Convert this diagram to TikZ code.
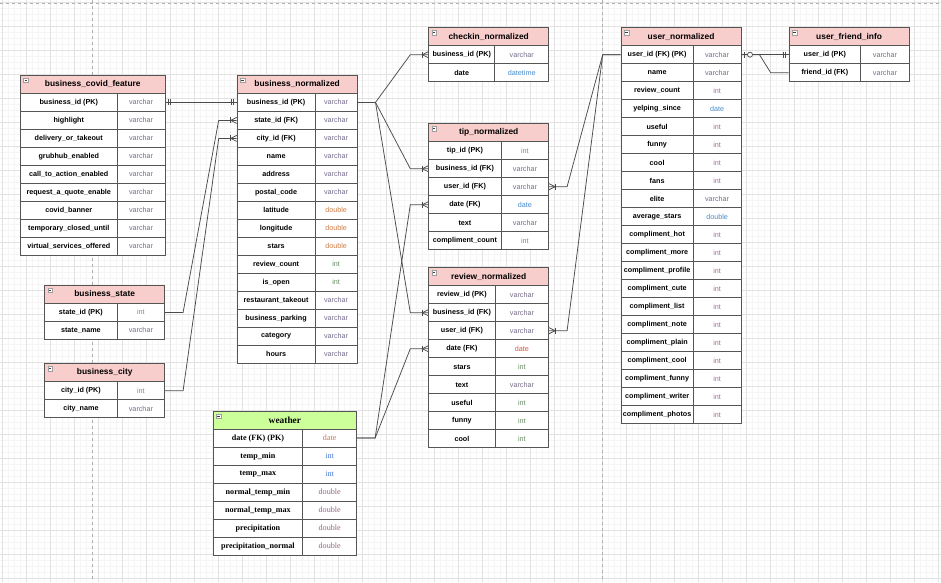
\documentclass[tikz,border=0pt]{standalone}
\usepackage{fontspec}
\setmainfont{Liberation Sans}
\newfontfamily\wserif{Liberation Serif}
\usetikzlibrary{calc}
\definecolor{bordc}{RGB}{85,85,85}
\definecolor{connc}{RGB}{75,75,75}
\definecolor{hdrpink}{RGB}{248,206,204}
\definecolor{hdrgreen}{RGB}{204,255,153}
\definecolor{cvar}{RGB}{118,108,140}
\definecolor{cint}{RGB}{165,110,150}
\definecolor{cintg}{RGB}{100,140,100}
\definecolor{cdbl}{RGB}{205,125,70}
\definecolor{cdate}{RGB}{70,140,205}
\definecolor{cdater}{RGB}{210,90,60}
\definecolor{cwdate}{RGB}{200,120,80}
\definecolor{cwint}{RGB}{70,120,210}
\definecolor{cwdbl}{RGB}{150,100,130}
\definecolor{gridmin}{RGB}{245,245,245}
\definecolor{gridmaj}{RGB}{226,226,226}
\definecolor{pagebrk}{RGB}{175,175,175}
\tikzset{
  tbl/.style={draw=bordc, line width=0.8pt, inner sep=0pt, minimum height=18pt, anchor=north west, fill=white},
  hdr/.style={tbl, fill=hdrpink, font=\fontsize{8.4}{10}\selectfont\bfseries},
  keycell/.style={tbl, font=\fontsize{7.2}{9}\selectfont\bfseries, text=black},
  typecell/.style={tbl, font=\fontsize{7.2}{9}\selectfont},
  conn/.style={draw=connc, line width=0.75pt},
  gridminor/.style={draw=gridmin, line width=0.4pt},
  gridmajor/.style={draw=gridmaj, line width=0.6pt},
  pagebreak/.style={draw=pagebrk, line width=0.7pt, dash pattern=on 3pt off 3pt},
}
% #1 name, #2 x, #3 y, #4 key width, #5 type width, #6 title, #7 rows
\newcommand\ertable[7]{%
  \node[hdr, minimum width={#4+#5}] (#1) at (#2,#3) {#6};
  \draw[draw=gray!75, fill=white, line width=0.4pt] ([xshift=3.5pt,yshift=-3pt]#1.north west) rectangle ([xshift=8pt,yshift=-7.5pt]#1.north west);
  \draw[line width=0.6pt, black!75] ([xshift=4.5pt,yshift=-5.25pt]#1.north west) -- ([xshift=7pt,yshift=-5.25pt]#1.north west);
  \foreach \kname/\tname/\cname [count=\i] in {#7} {
    \node[keycell, minimum width=#4] (#1-\i) at (#2,{#3+18*\i}) {\kname};
    \node[typecell, minimum width=#5, text=\cname] (#1-\i-t) at ({#2+#4},{#3+18*\i}) {\tname};
  }%
}
\newcommand\crowL[1]{%
  \draw[conn] ([xshift=-6pt,yshift=3pt]#1) -- ([xshift=-6pt,yshift=-3pt]#1);
  \draw[conn] ([yshift=3pt]#1) -- ([xshift=-6pt]#1) -- ([yshift=-3pt]#1);}
\newcommand\crowR[1]{%
  \draw[conn] ([xshift=6pt,yshift=3pt]#1) -- ([xshift=6pt,yshift=-3pt]#1);
  \draw[conn] ([yshift=3pt]#1) -- ([xshift=6pt]#1) -- ([yshift=-3pt]#1);}
\newcommand\oneL[1]{%
  \draw[conn] ([xshift=-3pt,yshift=3pt]#1) -- ([xshift=-3pt,yshift=-3pt]#1);
  \draw[conn] ([xshift=-5pt,yshift=3pt]#1) -- ([xshift=-5pt,yshift=-3pt]#1);}
\newcommand\oneR[1]{%
  \draw[conn] ([xshift=3pt,yshift=3pt]#1) -- ([xshift=3pt,yshift=-3pt]#1);
  \draw[conn] ([xshift=5pt,yshift=3pt]#1) -- ([xshift=5pt,yshift=-3pt]#1);}
\newcommand\zoneR[1]{%
  \draw[conn] ([xshift=3pt,yshift=3pt]#1) -- ([xshift=3pt,yshift=-3pt]#1);
  \draw[conn, fill=white] ([xshift=8.5pt]#1) circle[radius=2.5pt];}
\begin{document}
\begin{tikzpicture}[x=1pt,y=-1pt]
\useasboundingbox (0,0) rectangle (941,582);
\fill[white] (0,0) rectangle (941,582);
% grid
\foreach \gx in {2,8,...,938} \draw[gridminor] (\gx,0) -- (\gx,582);
\foreach \gy in {2,8,...,578} \draw[gridminor] (0,\gy) -- (941,\gy);
\foreach \gx in {2,26,...,938} \draw[gridmajor] (\gx,0) -- (\gx,582);
\foreach \gy in {2,26,...,578} \draw[gridmajor] (0,\gy) -- (941,\gy);
% page breaks
\draw[pagebreak] (92.5,0) -- (92.5,582);
\draw[pagebreak] (602,0) -- (602,582);
\draw[pagebreak] (0,3) -- (941,3);

% tables
\ertable{cv}{20}{75}{96.7}{48}{business\_covid\_feature}{%
business\_id (PK)/varchar/cvar,
highlight/varchar/cvar,
delivery\_or\_takeout/varchar/cvar,
grubhub\_enabled/varchar/cvar,
call\_to\_action\_enabled/varchar/cvar,
request\_a\_quote\_enable/varchar/cvar,
covid\_banner/varchar/cvar,
temporary\_closed\_until/varchar/cvar,
virtual\_services\_offered/varchar/cvar}

\ertable{bn}{236.7}{75}{78}{42}{business\_normalized}{%
business\_id (PK)/varchar/cvar,
state\_id (FK)/varchar/cvar,
city\_id (FK)/varchar/cvar,
name/varchar/cvar,
address/varchar/cvar,
postal\_code/varchar/cvar,
latitude/double/cdbl,
longitude/double/cdbl,
stars/double/cdbl,
review\_count/int/cintg,
is\_open/int/cintg,
restaurant\_takeout/varchar/cvar,
business\_parking/varchar/cvar,
category/varchar/cvar,
hours/varchar/cvar}

\ertable{ck}{428.3}{27.3}{66}{54}{checkin\_normalized}{%
business\_id (PK)/varchar/cvar,
date/datetime/cdate}

\ertable{tp}{428.3}{123.3}{72.4}{47.6}{tip\_normalized}{%
tip\_id (PK)/int/cint,
business\_id (FK)/varchar/cvar,
user\_id (FK)/varchar/cvar,
date (FK)/date/cdate,
text/varchar/cvar,
compliment\_count/int/cint}

\ertable{rv}{428.3}{267.3}{66.4}{53.6}{review\_normalized}{%
review\_id (PK)/varchar/cvar,
business\_id (FK)/varchar/cvar,
user\_id (FK)/varchar/cvar,
date (FK)/date/cdater,
stars/int/cintg,
text/varchar/cvar,
useful/int/cintg,
funny/int/cintg,
cool/int/cintg}

\ertable{us}{620.7}{27.3}{72}{48}{user\_normalized}{%
user\_id (FK) (PK)/varchar/cvar,
name/varchar/cvar,
review\_count/int/cint,
yelping\_since/date/cdate,
useful/int/cint,
funny/int/cint,
cool/int/cint,
fans/int/cint,
elite/varchar/cvar,
average\_stars/double/cdate,
compliment\_hot/int/cint,
compliment\_more/int/cint,
compliment\_profile/int/cint,
compliment\_cute/int/cint,
compliment\_list/int/cint,
compliment\_note/int/cint,
compliment\_plain/int/cint,
compliment\_cool/int/cint,
compliment\_funny/int/cint,
compliment\_writer/int/cint,
compliment\_photos/int/cint}

\ertable{uf}{788.7}{27.3}{71.6}{48.4}{user\_friend\_info}{%
user\_id (PK)/varchar/cvar,
friend\_id (FK)/varchar/cvar}

\ertable{bs}{44.3}{285}{72.4}{47.6}{business\_state}{%
state\_id (PK)/int/cint,
state\_name/varchar/cvar}

\ertable{bc}{44.3}{363.3}{72.4}{47.6}{business\_city}{%
city\_id (PK)/int/cint,
city\_name/varchar/cvar}

\begin{scope}[hdr/.append style={fill=hdrgreen, font=\wserif\fontsize{9.4}{11}\selectfont\bfseries},
  keycell/.append style={font=\wserif\fontsize{8.1}{10}\selectfont\bfseries},
  typecell/.append style={font=\wserif\fontsize{8.1}{10}\selectfont}]
\ertable{wt}{212.7}{410.7}{89.6}{54}{weather}{%
date (FK) (PK)/date/cwdate,
temp\_min/int/cwint,
temp\_max/int/cwint,
normal\_temp\_min/double/cwdbl,
normal\_temp\_max/double/cwdbl,
precipitation/double/cwdbl,
precipitation\_normal/double/cwdbl}
\end{scope}

% connectors
\draw[conn] (cv-1-t.east) -- (bn-1.west);
\oneR{cv-1-t.east}
\oneL{bn-1.west}

\draw[conn] (bs-1-t.east) -- ++(18,0) -- ([xshift=-18pt]bn-2.west) -- (bn-2.west);
\crowL{bn-2.west}
\draw[conn] (bc-1-t.east) -- ++(18,0) -- ([xshift=-18pt]bn-3.west) -- (bn-3.west);
\crowL{bn-3.west}

\foreach \tg in {ck-1,tp-2,rv-2} {
  \draw[conn] (bn-1-t.east) -- ++(18,0) -- ([xshift=-18pt]\tg.west) -- (\tg.west);
  \crowL{\tg.west}
}
\foreach \tg in {tp-4,rv-4} {
  \draw[conn] (wt-1-t.east) -- ++(18,0) -- ([xshift=-18pt]\tg.west) -- (\tg.west);
  \crowL{\tg.west}
}
\foreach \tg in {tp-3-t,rv-3-t} {
  \draw[conn] (us-1.west) -- ++(-18,0) -- ([xshift=18pt]\tg.east) -- (\tg.east);
  \crowR{\tg.east}
}
\draw[conn] (us-1-t.east) -- (uf-1.west);
\draw[conn] (us-1-t.east) -- ++(18,0) -- ([xshift=-18pt]uf-2.west) -- (uf-2.west);
\zoneR{us-1-t.east}
\oneL{uf-1.west}
\end{tikzpicture}
\end{document}
